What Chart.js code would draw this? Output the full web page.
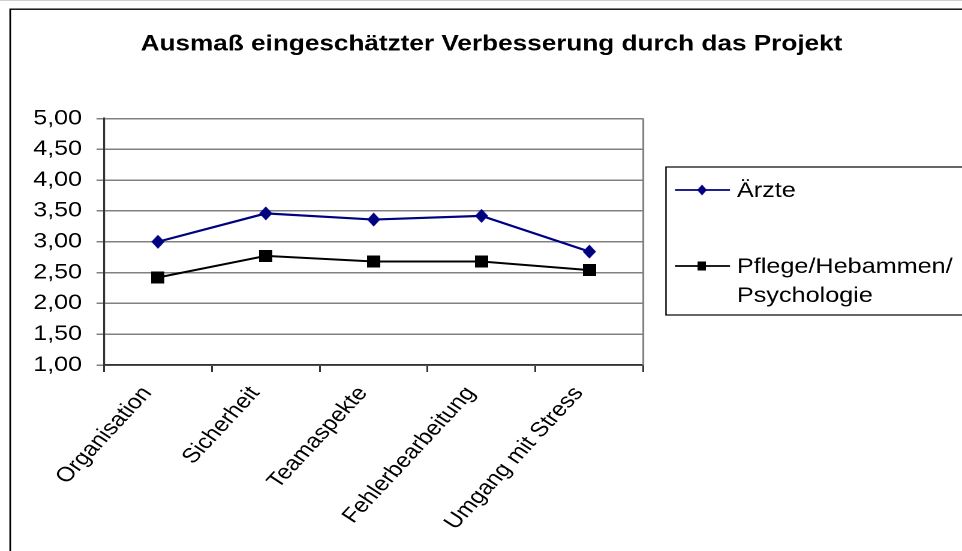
<!DOCTYPE html>
<html>
<head>
<meta charset="utf-8">
<script src="https://cdn.jsdelivr.net/npm/chart.js@4/dist/chart.umd.min.js"></script>
<style>
  html, body { margin: 0; padding: 0; background: #fff; overflow: hidden; }
  /* the chart is laid out 802px wide and widened to the 962px page */
  #wrap { position: absolute; left: 0; top: 0; width: 802px; height: 551px;
          transform: scaleX(1.199501); transform-origin: 0 0; }
</style>
</head>
<body>
<div id="wrap"><canvas id="c"></canvas></div>
<script>
const chartTitle = 'Ausmaß eingeschätzter Verbesserung durch das Projekt';
const categories = ['Organisation', 'Sicherheit', 'Teamaspekte', 'Fehlerbearbeitung', 'Umgang mit Stress'];
const seriesNames = ['Ärzte', 'Pflege/Hebammen/Psychologie'];
const legendLines = [['Ärzte'], ['Pflege/Hebammen/', 'Psychologie']];
const aerzte = [3.00, 3.46, 3.36, 3.42, 2.84];
const pflege = [2.42, 2.77, 2.68, 2.68, 2.54];
const yTickValues = [1, 1.5, 2, 2.5, 3, 3.5, 4, 4.5, 5];
const yTickLabels = ['1,00', '1,50', '2,00', '2,50', '3,00', '3,50', '4,00', '4,50', '5,00'];

const FONT = "'Liberation Sans', Arial, sans-serif";
const NAVY = '#000080';
const BLACK = '#000000';
const S = 962 / 802;            // horizontal widening of the layout
const px = x => x / S;          // page x -> layout x

// Marker bitmaps (drawn at 4x, used at 1x) so they stay crisp after widening
function makeMarker(shape, w, h, color) {
  return new Promise(resolve => {
    const k = 4;
    const cv = document.createElement('canvas');
    cv.width = Math.round(w * k); cv.height = Math.round(h * k);
    const g = cv.getContext('2d');
    g.fillStyle = color;
    g.beginPath();
    if (shape === 'diamond') {
      g.moveTo(cv.width / 2, 0);
      g.lineTo(cv.width, cv.height / 2);
      g.lineTo(cv.width / 2, cv.height);
      g.lineTo(0, cv.height / 2);
    } else {
      g.rect(0, 0, cv.width, cv.height);
    }
    g.closePath();
    g.fill();
    const img = new Image(w, h);
    img.onload = () => resolve(img);
    img.src = cv.toDataURL();
  });
}

Promise.all([
  makeMarker('diamond', px(14), 14.5, NAVY),
  makeMarker('square', px(13.5), 12.5, BLACK),
  makeMarker('diamond', px(10.5), 11.5, NAVY),
  makeMarker('square', px(9), 9, BLACK)
]).then(([dia, sq, diaSmall, sqSmall]) => {
  const legendMarkers = [diaSmall, sqSmall];
  const legendColors = [NAVY, BLACK];

  const decor = {
    id: 'decor',
    beforeDatasetsDraw(chart) {
      const { ctx, chartArea: a } = chart;
      ctx.save();
      ctx.strokeStyle = '#808080';
      ctx.lineWidth = 1.5;
      ctx.beginPath();
      ctx.moveTo(a.right, a.top);
      ctx.lineTo(a.right, a.bottom);
      ctx.stroke();
      ctx.restore();
    },
    afterDraw(chart) {
      const ctx = chart.ctx;
      ctx.save();
      // outer frame
      ctx.strokeStyle = '#d0d0d0';
      ctx.lineWidth = 1;
      ctx.beginPath(); ctx.moveTo(0, 0.5); ctx.lineTo(820, 0.5); ctx.stroke();
      ctx.strokeStyle = '#000';
      ctx.lineWidth = 1.4;
      ctx.beginPath();
      ctx.moveTo(px(10.2), 600); ctx.lineTo(px(10.2), 9.2); ctx.lineTo(820, 9.2);
      ctx.stroke();
      // title
      ctx.fillStyle = '#000';
      ctx.font = 'bold 21.8px ' + FONT;
      ctx.textAlign = 'center';
      ctx.textBaseline = 'middle';
      ctx.fillText(chartTitle, px(491.5), 44.5);
      // legend
      ctx.strokeStyle = '#000';
      ctx.lineWidth = 1.2;
      ctx.strokeRect(px(666), 167, 300, 148);
      const rowY = [190, 266];
      ctx.font = '21px ' + FONT;
      ctx.textAlign = 'left';
      chart.data.datasets.forEach((ds, i) => {
        const y = rowY[i];
        ctx.strokeStyle = legendColors[i];
        ctx.lineWidth = 1.7;
        ctx.beginPath(); ctx.moveTo(px(675), y); ctx.lineTo(px(730), y); ctx.stroke();
        const m = legendMarkers[i];
        ctx.drawImage(m, px(702) - m.width / 2, y - m.height / 2, m.width, m.height);
        ctx.fillStyle = '#000';
        legendLines[i].forEach((t, j) => ctx.fillText(t, px(737), y + 1 + j * 29));
      });
      ctx.restore();
    }
  };

  new Chart(document.getElementById('c'), {
    type: 'line',
    data: {
      labels: categories,
      datasets: [
        { label: seriesNames[0], data: aerzte, borderColor: NAVY, backgroundColor: NAVY,
          borderWidth: 2.2, pointStyle: dia, pointRadius: 7, tension: 0 },
        { label: seriesNames[1], data: pflege, borderColor: BLACK, backgroundColor: BLACK,
          borderWidth: 2, pointStyle: sq, pointRadius: 7, tension: 0 }
      ]
    },
    options: {
      responsive: true,
      maintainAspectRatio: false,
      animation: false,
      devicePixelRatio: 2,
      layout: { padding: { top: 118.5, right: 802 - px(643.3), bottom: 0, left: 0 } },
      plugins: { legend: { display: false }, title: { display: false }, tooltip: { enabled: false } },
      scales: {
        x: {
          offset: true,
          grid: { offset: true, drawOnChartArea: false, drawTicks: true, tickLength: 7,
                  tickColor: '#333', lineWidth: 1.5 },
          border: { display: true, color: '#333', width: 1.6 },
          ticks: { color: '#000', font: { family: FONT, size: 20.5 }, maxRotation: 52, minRotation: 52,
                   padding: 10, labelOffset: -9, autoSkip: false },
          afterFit(s) { s.height = 551 - 365; }
        },
        y: {
          min: 1, max: 5,
          afterBuildTicks(s) { s.ticks = yTickValues.map(v => ({ value: v })); },
          grid: { color: '#808080', lineWidth: 1.5, tickLength: px(104 - 96.5), tickColor: '#808080' },
          border: { display: true, color: '#333', width: 1.6 },
          ticks: { color: '#000', font: { family: FONT, size: 20.9 }, padding: px(96.5 - 82),
                   callback: (v, i) => yTickLabels[i] },
          afterFit(s) { s.width = px(104); }
        }
      }
    },
    plugins: [decor]
  });
});
</script>
</body>
</html>
